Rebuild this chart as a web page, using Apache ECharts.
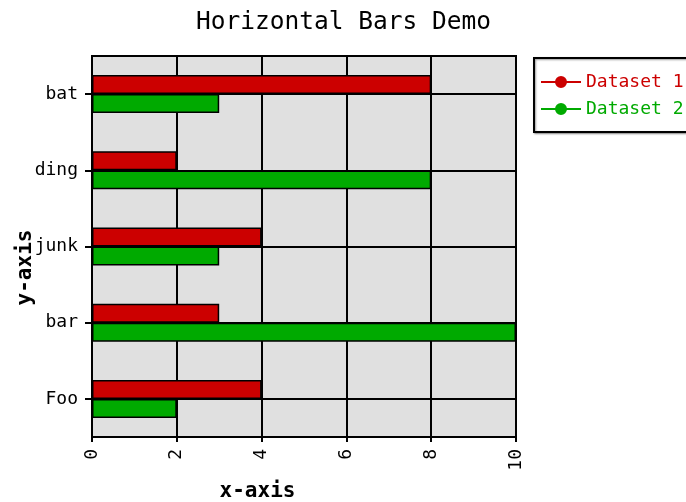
<!DOCTYPE html>
<html>
<head>
<meta charset="utf-8">
<script src="https://cdn.jsdelivr.net/npm/echarts@6/dist/echarts.min.js"></script>
<style>
  html, body { margin: 0; padding: 0; background: #fff; }
  #chart { width: 686px; height: 502px; }
</style>
</head>
<body>
<div id="chart"></div>
<script>
// dane wykresu
const categories = ['Foo', 'bar', 'junk', 'ding', 'bat'];
const dataset1 = [4, 3, 4, 2, 8];
const dataset2 = [2, 10, 3, 8, 3];
const xTicks = { min: 0, max: 10, interval: 2 };

const mono = '"DejaVu Sans Mono", monospace';
const legendIcon = 'path://M0,5 L40,5 L40,7 L0,7 Z M14,6 A6,6 0 1,1 26,6 A6,6 0 1,1 14,6 Z';

const chart = echarts.init(document.getElementById('chart'));

const option = {
  animation: false,
  title: {
    text: 'Horizontal Bars Demo',
    left: 191,
    top: 5,
    textStyle: { fontFamily: mono, fontSize: 24.5, fontWeight: 'normal', color: '#000' }
  },
  legend: {
    orient: 'vertical',
    left: 534,
    top: 58,
    width: 160,
    padding: [15, 10, 14, 7],
    itemGap: 9,
    itemWidth: 40,
    itemHeight: 12,
    borderColor: '#000',
    borderWidth: 2,
    backgroundColor: '#fff',
    shadowColor: 'rgba(0,0,0,0.4)',
    shadowOffsetX: 1,
    shadowOffsetY: 1,
    shadowBlur: 2,
    itemStyle: { borderWidth: 0 },
    data: [
      { name: 'Dataset 1', icon: legendIcon, textStyle: { color: '#cc0000' } },
      { name: 'Dataset 2', icon: legendIcon, textStyle: { color: '#00aa00' } }
    ],
    textStyle: { fontFamily: mono, fontSize: 18 }
  },
  grid: {
    left: 92, right: 170, top: 56, bottom: 65,
    outerBoundsMode: 'none',
    show: true,
    backgroundColor: '#e0e0e0',
    borderColor: '#000',
    borderWidth: 2
  },
  xAxis: {
    type: 'value',
    min: xTicks.min,
    max: xTicks.max,
    interval: xTicks.interval,
    name: 'x-axis',
    nameLocation: 'middle',
    nameGap: 44,
    nameMoveOverlap: false,
    nameTextStyle: { fontFamily: mono, fontSize: 21, fontWeight: 'bold', color: '#000', padding: [0, 93, 0, 0] },
    axisLine: { show: true, lineStyle: { color: '#000', width: 2 } },
    axisTick: { show: true, length: 5, lineStyle: { color: '#000', width: 2 } },
    axisLabel: { rotate: 90, fontFamily: mono, fontSize: 18, color: '#000', margin: 12 },
    splitLine: { show: true, lineStyle: { color: '#000', width: 2 } }
  },
  yAxis: {
    type: 'category',
    data: categories,
    name: 'y-axis',
    nameLocation: 'middle',
    nameGap: 56,
    nameMoveOverlap: false,
    nameTextStyle: { fontFamily: mono, fontSize: 21, fontWeight: 'bold', color: '#000', padding: [0, 42, 0, 0] },
    axisLine: { show: true, lineStyle: { color: '#000', width: 2 } },
    axisTick: { show: true, alignWithLabel: true, length: 7, lineStyle: { color: '#000', width: 2 } },
    axisLabel: { fontFamily: mono, fontSize: 18, color: '#000', margin: 14 },
    splitLine: { show: false }
  },
  series: [
    {
      name: 'Dataset 1',
      type: 'bar',
      data: dataset1,
      barWidth: 19,
      barGap: '0%',
      itemStyle: { color: '#cc0000', borderColor: '#000', borderWidth: 1.5 },
      z: 3
    },
    {
      name: 'Dataset 2',
      type: 'bar',
      data: dataset2,
      barWidth: 19,
      barGap: '0%',
      itemStyle: { color: '#00aa00', borderColor: '#000', borderWidth: 1.5 },
      z: 3
    },
    {
      // poziome linie siatki przez środek kategorii
      name: 'gridlines',
      type: 'line',
      data: [],
      z: 1,
      silent: true,
      markLine: {
        silent: true,
        symbol: 'none',
        label: { show: false },
        lineStyle: { color: '#000', width: 2, type: 'solid' },
        data: categories.map(c => ({ yAxis: c }))
      }
    }
  ]
};

chart.setOption(option);
window.addEventListener('resize', () => chart.resize());
</script>
</body>
</html>
